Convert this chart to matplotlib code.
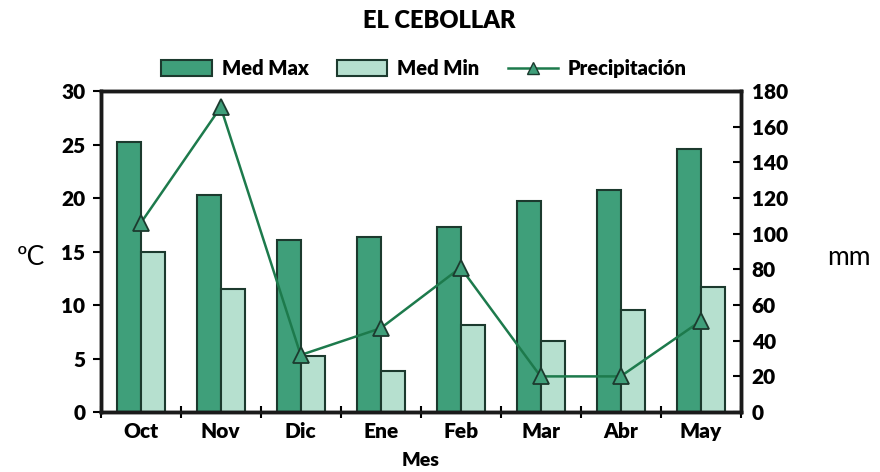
import numpy as np
import matplotlib
matplotlib.use("Agg")
import matplotlib.pyplot as plt
from matplotlib.patches import Patch
from matplotlib.lines import Line2D

meses = ["Oct", "Nov", "Dic", "Ene", "Feb", "Mar", "Abr", "May"]
med_max = [25.2, 20.3, 16.1, 16.4, 17.3, 19.7, 20.8, 24.6]
med_min = [15.0, 11.5, 5.2, 3.8, 8.1, 6.6, 9.5, 11.7]
precip = [106, 171, 32, 47, 81, 20, 20, 51]

plt.rcParams['font.family'] = ['Lato', 'DejaVu Sans']

c_max = '#3f9f7a'
c_min = '#b6e0cf'
c_edge = '#1c3a2e'
c_line = '#1d7a4c'
wt = 'heavy'

fig = plt.figure(figsize=(8.8, 4.72), dpi=100)
ax = fig.add_axes([0.1145, 0.127, 0.727, 0.68])
x = np.arange(len(meses))
w = 0.3
ax.bar(x - w / 2, med_max, w, color=c_max, edgecolor=c_edge, linewidth=1.5, zorder=2)
ax.bar(x + w / 2, med_min, w, color=c_min, edgecolor=c_edge, linewidth=1.5, zorder=2)
ax.set_xlim(-0.5, 7.5)
ax.set_ylim(0, 30)
ax.set_yticks(range(0, 31, 5))
ax.set_xticks(x)
ax.set_xticklabels(meses)
ax.set_xticks(np.arange(-0.5, 8, 1), minor=True)
ax.tick_params(axis='x', which='major', length=0, pad=7)
ax.tick_params(axis='x', which='minor', length=8, width=1.5, direction='inout')
ax.tick_params(axis='y', length=6, width=1.5, direction='out', pad=5)
for lab in ax.get_xticklabels() + ax.get_yticklabels():
    lab.set_fontsize(15)
    lab.set_fontweight(wt)
for s in ax.spines.values():
    s.set_linewidth(2.5)
    s.set_color('#1a1a1a')

ax2 = ax.twinx()
ax2.plot(x, precip, color=c_line, linewidth=1.8, marker='^', markersize=11,
         markerfacecolor=c_max, markeredgecolor=c_edge, markeredgewidth=1.3, zorder=3)
ax2.set_ylim(0, 180)
ax2.set_yticks(range(0, 181, 20))
ax2.tick_params(axis='y', length=6, width=1.5, direction='in', pad=8)
for lab in ax2.get_yticklabels():
    lab.set_fontsize(15)
    lab.set_fontweight(wt)
for s in ax2.spines.values():
    s.set_linewidth(2.5)
    s.set_color('#1a1a1a')

fig.text(0.035, 0.455, 'ºC', fontsize=19, ha='center', va='center')
fig.text(0.965, 0.455, 'mm', fontsize=19, ha='center', va='center')
ax.set_xlabel('Mes', fontsize=14, fontweight=wt, labelpad=8)
fig.text(0.499, 0.955, 'EL CEBOLLAR', fontsize=17, fontweight=wt, ha='center', va='center')

handles = [Patch(facecolor=c_max, edgecolor=c_edge, linewidth=1.5),
           Patch(facecolor=c_min, edgecolor=c_edge, linewidth=1.5),
           Line2D([], [], color=c_line, linewidth=1.8, marker='^', markersize=9,
                  markerfacecolor=c_max, markeredgecolor=c_edge)]
leg = fig.legend(handles, ['Med Max', 'Med Min', 'Precipitación'], loc='center',
                 bbox_to_anchor=(0.482, 0.855), ncol=3, frameon=False,
                 prop={'weight': wt, 'size': 14.5}, handlelength=2.5,
                 handleheight=0.8, columnspacing=1.4, handletextpad=0.5)

fig.savefig('out.png', dpi=100, facecolor='white')
